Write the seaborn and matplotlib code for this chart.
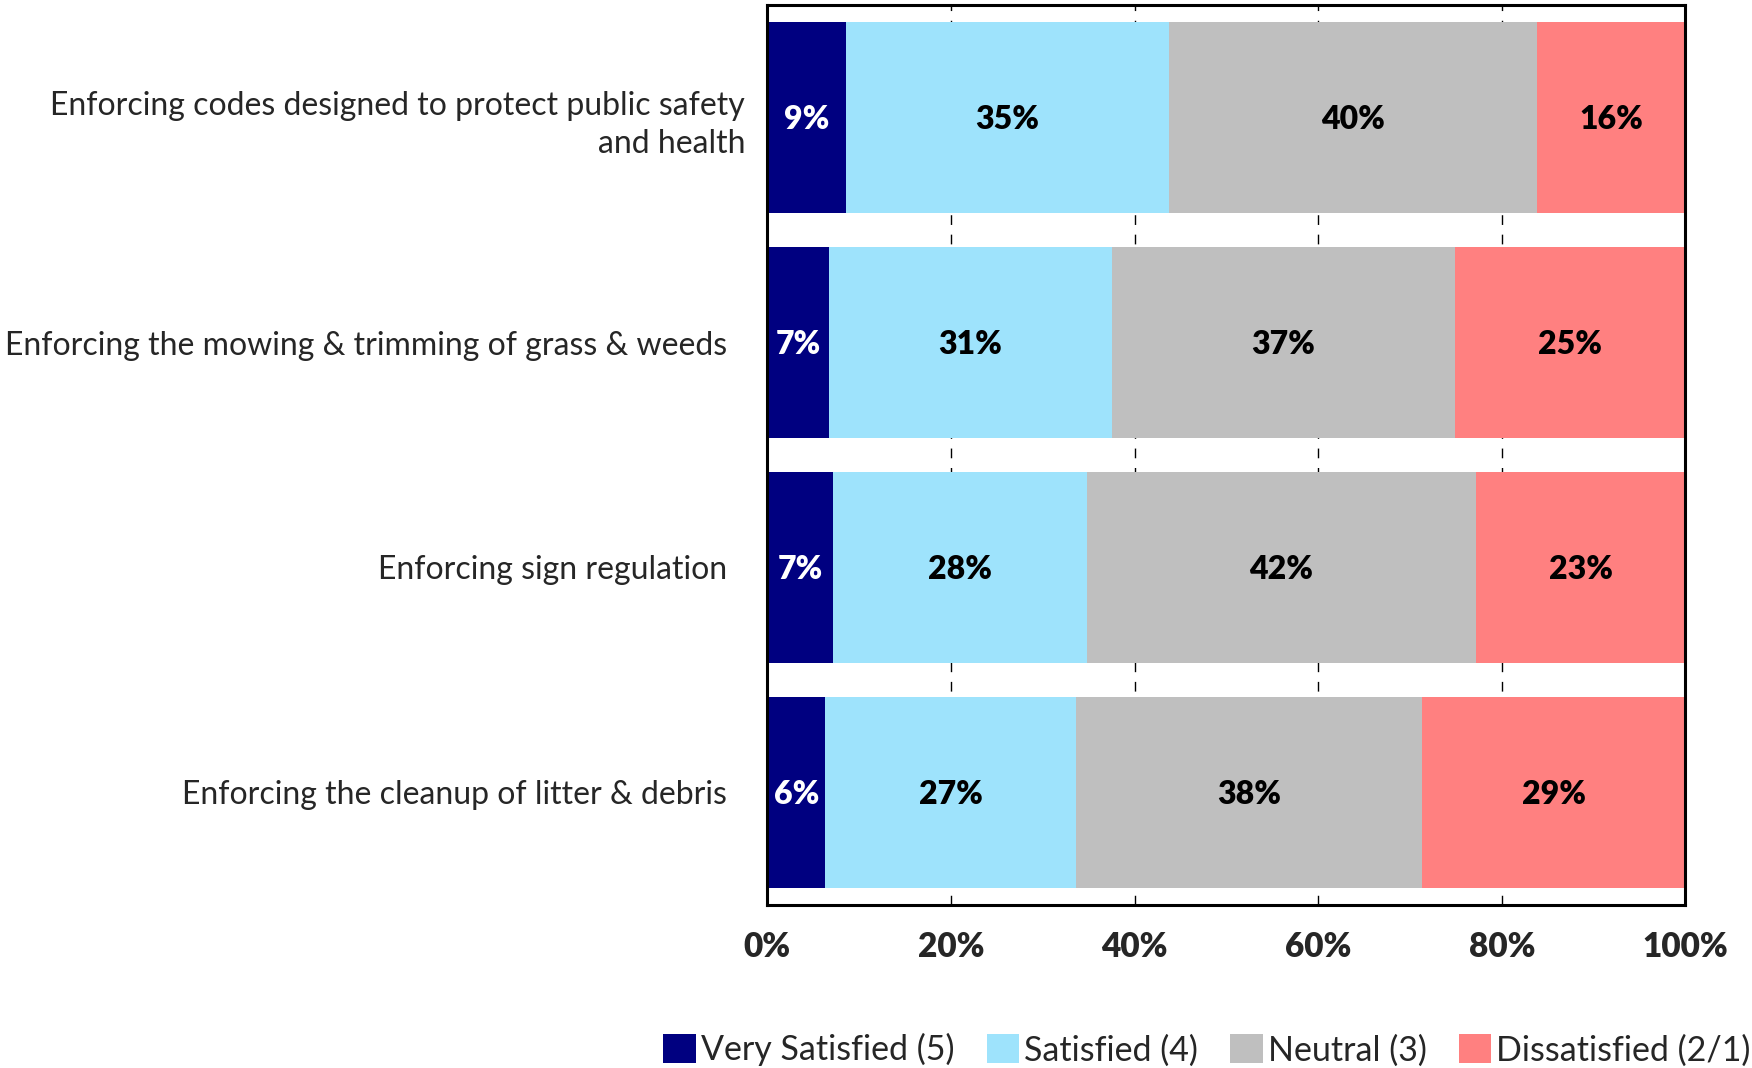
import numpy as np
import pandas as pd
import matplotlib.pyplot as plt
import matplotlib.transforms as mtransforms
from matplotlib.patches import Patch
import seaborn as sns

categories = [
    "Enforcing codes designed to protect public safety\nand health",
    "Enforcing the mowing & trimming of grass & weeds",
    "Enforcing sign regulation",
    "Enforcing the cleanup of litter & debris",
]
very_satisfied = [8.6, 6.7, 7.1, 6.3]
satisfied = [35.1, 30.8, 27.7, 27.3]
neutral = [40.1, 37.4, 42.4, 37.7]
dissatisfied = [16.2, 25.1, 22.8, 28.7]

series_names = ["Very Satisfied (5)", "Satisfied (4)", "Neutral (3)", "Dissatisfied (2/1)"]
colors = ["#000080", "#9EE3FC", "#BFBFBF", "#FF8080"]
label_colors = ["white", "black", "black", "black"]

df = pd.DataFrame({
    "category": categories,
    series_names[0]: very_satisfied,
    series_names[1]: satisfied,
    series_names[2]: neutral,
    series_names[3]: dissatisfied,
})

sns.set_theme(style="white")
plt.rcParams["font.family"] = ["Lato", "DejaVu Sans"]

fig = plt.figure(figsize=(17.52, 10.68), dpi=100)
ax = fig.add_axes([0.438, 0.153, 0.524, 0.842])

# stacked bars: draw cumulative totals from the largest down
cum = df[series_names].cumsum(axis=1)
for name, color in reversed(list(zip(series_names, colors))):
    sns.barplot(data=cum.assign(category=df["category"]), x=name, y="category",
                color=color, width=0.85, orient="h", ax=ax, zorder=2,
                saturation=1, edgecolor="none")

# segment labels
for i, cat in enumerate(categories):
    left = 0
    for name, tc in zip(series_names, label_colors):
        v = df.loc[i, name]
        ax.text(left + v / 2, i + 0.01, f"{v:.0f}%", ha="center", va="center",
                color=tc, fontsize=23, fontweight="heavy", zorder=3)
        left += v

ax.set_xlim(0, 100)
ax.set_ylim(3.5, -0.5)
ax.set_xticks([0, 20, 40, 60, 80, 100])
ax.set_xticklabels([f"{t}%" for t in [0, 20, 40, 60, 80, 100]],
                   fontsize=24, fontweight="heavy")
ax.tick_params(axis="x", length=0, pad=19)
ax.tick_params(axis="y", length=0, pad=29, labelsize=23)
for lbl in ax.get_yticklabels():
    lbl.set_multialignment("right")
    lbl.set_linespacing(1.35)
# the wrapped first label sits a little closer to the axis
first = ax.get_yticklabels()[0]
first.set_transform(first.get_transform() + mtransforms.ScaledTranslation(0.18, 0, fig.dpi_scale_trans))

ax.set_xlabel("")
ax.set_ylabel("")
ax.grid(axis="x", color="black", linestyle=(0, (7, 7)), linewidth=1, zorder=1)
ax.grid(axis="y", visible=False)
for s in ax.spines.values():
    s.set_visible(True)
    s.set_color("black")
    s.set_linewidth(2.2)

handles = [Patch(facecolor=c, edgecolor="none", label=n) for n, c in zip(series_names, colors)]
fig.legend(handles=handles, loc="center", bbox_to_anchor=(0.689, 0.017), ncol=4,
           frameon=False, fontsize=24.5, handlelength=0.95, handleheight=0.95,
           handletextpad=0.15, columnspacing=0.95)

fig.savefig("out.png", dpi=100)
